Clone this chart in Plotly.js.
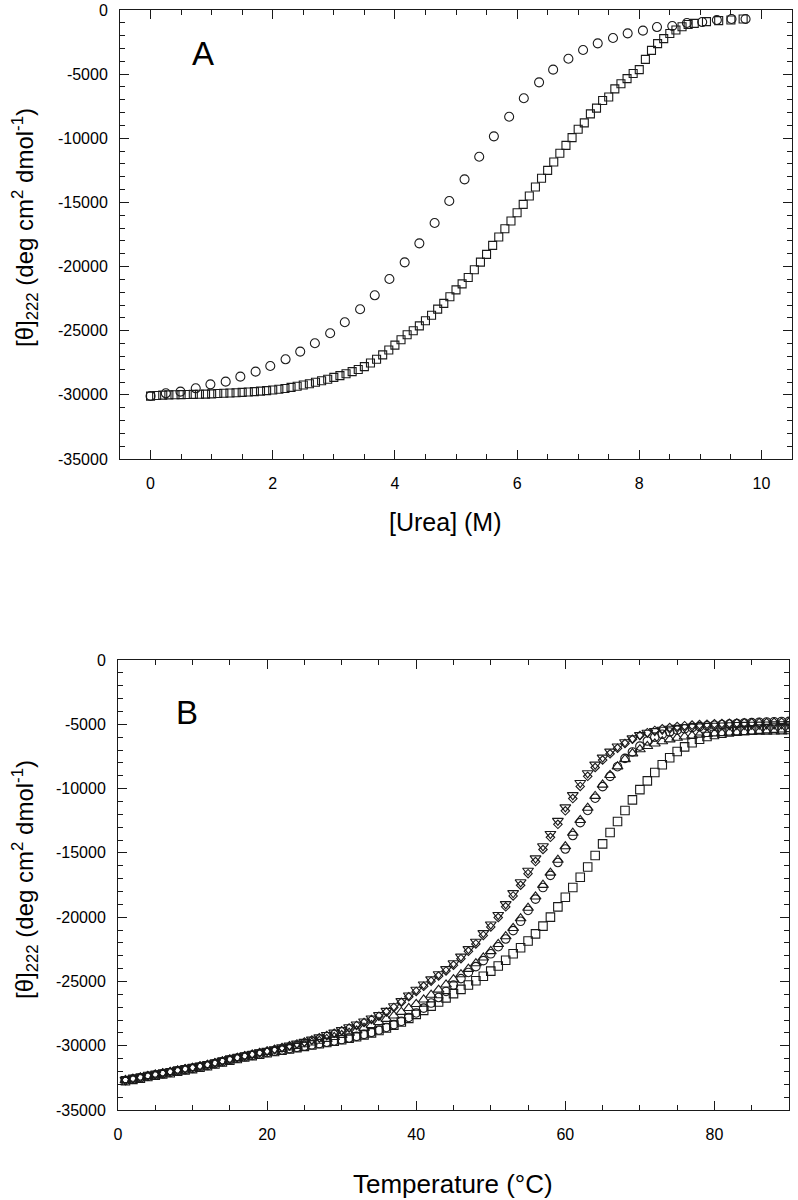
<!DOCTYPE html>
<html><head><meta charset="utf-8">
<script src="https://cdn.plot.ly/plotly-3.0.1.min.js"></script>
<style>html,body{margin:0;padding:0;background:#fff}#chart{width:798px;height:1200px}</style>
</head><body><div id="chart"></div>
<script>
// ---------- Panel A: urea denaturation ----------
const ureaCircles = [0,0.25,0.49,0.74,0.98,1.23,1.47,1.72,1.96,2.21,2.45,2.69,2.94,3.18,3.43,3.67,3.91,4.16,4.40,4.65,4.89,5.14,5.38,5.62,5.87,6.11,6.36,6.59,6.84,7.08,7.32,7.57,7.81,8.06,8.29,8.54,8.78,9.03,9.27,9.51,9.74];
const thetaCircles = [-30090,-29880,-29750,-29490,-29180,-28970,-28580,-28190,-27750,-27230,-26630,-25980,-25200,-24340,-23330,-22240,-20970,-19670,-18190,-16600,-14890,-13200,-11440,-9850,-8320,-6880,-5640,-4650,-3800,-3120,-2600,-2180,-1820,-1610,-1330,-1250,-1010,-940,-780,-700,-700];
const ureaSquares = [0,0.1,0.2,0.3,0.4,0.5,0.6,0.7,0.8,0.9,1.0,1.1,1.2,1.3,1.4,1.5,1.6,1.7,1.8,1.9,2.0,2.1,2.2,2.3,2.4,2.5,2.6,2.7,2.8,2.9,3.0,3.1,3.2,3.3,3.4,3.5,3.6,3.7,3.8,3.9,4.0,4.1,4.2,4.3,4.4,4.5,4.6,4.7,4.8,4.9,5.0,5.1,5.2,5.3,5.4,5.5,5.6,5.7,5.8,5.9,6.0,6.1,6.2,6.3,6.4,6.5,6.6,6.7,6.8,6.9,7.0,7.1,7.2,7.3,7.4,7.5,7.6,7.7,7.8,7.9,8.0,8.1,8.2,8.3,8.4,8.5,8.6,8.7,8.8,8.9,9.1,9.3,9.5,9.7];
const thetaSquares = [-30100,-30050,-30020,-30000,-29990,-29980,-29970,-29960,-29950,-29940,-29920,-29900,-29880,-29860,-29840,-29810,-29780,-29750,-29710,-29670,-29620,-29560,-29500,-29420,-29330,-29230,-29130,-29020,-28900,-28780,-28640,-28500,-28350,-28190,-28020,-27800,-27520,-27220,-26880,-26500,-26120,-25700,-25320,-25000,-24620,-24220,-23800,-23320,-22870,-22350,-21820,-21350,-20850,-20250,-19650,-19050,-18350,-17700,-17050,-16450,-15800,-15150,-14500,-13800,-13120,-12500,-11850,-11170,-10550,-9950,-9300,-8800,-8100,-7650,-7050,-6780,-6150,-5750,-5350,-4950,-4650,-3850,-3150,-2620,-2230,-1830,-1560,-1300,-1130,-1040,-910,-830,-780,-700];

// ---------- Panel B: thermal denaturation ----------
const tempC = [1,2,3,4,5,6,7,8,9,10,11,12,13,14,15,16,17,18,19,20,21,22,23,24,25,26,27,28,29,30,31,32,33,34,35,36,37,38,39,40,41,42,43,44,45,46,47,48,49,50,51,52,53,54,55,56,57,58,59,60,61,62,63,64,65,66,67,68,69,70,71,72,73,74,75,76,77,78,79,80,81,82,83,84,85,86,87,88,89,90];
const thetaB_squares = [-32720,-32620,-32520,-32400,-32300,-32200,-32100,-31980,-31880,-31780,-31670,-31560,-31420,-31270,-31120,-31000,-30880,-30770,-30660,-30550,-30450,-30350,-30250,-30150,-30050,-29950,-29850,-29750,-29650,-29540,-29420,-29300,-29160,-29000,-28820,-28620,-28400,-28150,-27870,-27560,-27250,-26920,-26600,-26280,-25950,-25620,-25280,-24950,-24600,-24200,-23800,-23350,-22850,-22380,-21850,-21300,-20700,-20000,-19200,-18450,-17700,-16900,-16100,-15200,-14300,-13420,-12560,-11700,-10880,-10080,-9400,-8750,-8150,-7600,-7120,-6760,-6440,-6160,-5950,-5800,-5690,-5600,-5530,-5470,-5420,-5380,-5340,-5300,-5270,-5240];
const thetaB_circles = [-32700,-32600,-32500,-32380,-32280,-32180,-32080,-31960,-31860,-31760,-31650,-31540,-31400,-31250,-31100,-30980,-30860,-30750,-30640,-30530,-30430,-30330,-30230,-30130,-30030,-29930,-29830,-29730,-29630,-29520,-29400,-29270,-29120,-28960,-28780,-28580,-28360,-28100,-27800,-27450,-27080,-26680,-26250,-25780,-25280,-24780,-24300,-23850,-23380,-22850,-22300,-21700,-21050,-20320,-19480,-18600,-17700,-16750,-15750,-14700,-13650,-12650,-11700,-10750,-9850,-9050,-8300,-7650,-7150,-6700,-6300,-6000,-5780,-5600,-5460,-5350,-5260,-5180,-5120,-5070,-5020,-4980,-4940,-4900,-4870,-4840,-4820,-4800,-4780,-4770];
const thetaB_upTri = [-32680,-32580,-32480,-32360,-32260,-32160,-32060,-31940,-31840,-31740,-31630,-31520,-31380,-31230,-31080,-30960,-30840,-30720,-30600,-30490,-30380,-30260,-30140,-30020,-29890,-29760,-29620,-29480,-29330,-29170,-29000,-28820,-28620,-28400,-28170,-27920,-27660,-27380,-27080,-26760,-26420,-26050,-25650,-25250,-24850,-24450,-24030,-23600,-23150,-22650,-22100,-21500,-20850,-20100,-19280,-18400,-17500,-16550,-15550,-14500,-13450,-12450,-11500,-10580,-9700,-8950,-8280,-7720,-7270,-6950,-6700,-6500,-6330,-6180,-6060,-5960,-5880,-5810,-5760,-5720,-5690,-5660,-5640,-5620,-5600,-5590,-5580,-5570,-5560,-5550];
const thetaB_downTri = [-32650,-32550,-32440,-32330,-32220,-32110,-32000,-31890,-31780,-31670,-31560,-31440,-31310,-31170,-31030,-30900,-30770,-30640,-30510,-30390,-30260,-30120,-29980,-29830,-29690,-29520,-29340,-29160,-28970,-28780,-28560,-28340,-28110,-27870,-27610,-27280,-26920,-26520,-26080,-25640,-25230,-24830,-24430,-24030,-23580,-23060,-22480,-21900,-21230,-20560,-19820,-18980,-18120,-17280,-16380,-15420,-14480,-13520,-12500,-11450,-10500,-9560,-8800,-8130,-7580,-7120,-6720,-6390,-6090,-5830,-5650,-5520,-5420,-5340,-5270,-5220,-5180,-5150,-5120,-5100,-5080,-5060,-5050,-5040,-5030,-5020,-5010,-5000,-4990,-4980];
const thetaB_diamonds = [-32680,-32570,-32460,-32350,-32240,-32130,-32020,-31910,-31800,-31690,-31580,-31460,-31330,-31190,-31050,-30920,-30790,-30660,-30530,-30410,-30280,-30140,-30000,-29860,-29720,-29560,-29390,-29210,-29030,-28840,-28630,-28420,-28200,-27960,-27700,-27380,-27020,-26620,-26200,-25780,-25380,-24980,-24580,-24180,-23740,-23230,-22660,-22080,-21420,-20760,-20030,-19200,-18350,-17520,-16620,-15680,-14740,-13790,-12780,-11730,-10780,-9830,-9050,-8360,-7780,-7300,-6870,-6500,-6170,-5880,-5650,-5480,-5350,-5250,-5170,-5110,-5060,-5020,-4990,-4960,-4940,-4920,-4900,-4890,-4880,-4870,-4860,-4850,-4840,-4830];

// ---------- Tick labels ----------
const yTickVals = [0,-5000,-10000,-15000,-20000,-25000,-30000,-35000];
const yTickText = ["0","-5000","-10000","-15000","-20000","-25000","-30000","-35000"];
const xTickValsA = [0,2,4,6,8,10];
const xTickTextA = ["0","2","4","6","8","10"];
const xTickValsB = [0,20,40,60,80];
const xTickTextB = ["0","20","40","60","80"];

const INK = '#1a1a1a';
const FONT = 'Liberation Sans, Arial, Helvetica, sans-serif';

function mk(x, y, sym, size, xa, ya) {
  return {x: x, y: y, type: 'scatter', mode: 'markers', xaxis: xa, yaxis: ya,
    marker: {symbol: sym, size: size, color: INK, line: {color: INK, width: 1.1}},
    showlegend: false, hoverinfo: 'skip'};
}

const data = [
  mk(ureaSquares, thetaSquares, 'square-open', 8, 'x', 'y'),
  mk(ureaCircles, thetaCircles, 'circle-open', 9, 'x', 'y'),
  mk(tempC, thetaB_squares, 'square-open', 8.5, 'x2', 'y2'),
  mk(tempC, thetaB_diamonds, 'diamond-open', 6.5, 'x2', 'y2'),
  mk(tempC, thetaB_circles, 'circle-open', 8.5, 'x2', 'y2'),
  mk(tempC, thetaB_upTri, 'triangle-up-open', 9.5, 'x2', 'y2'),
  mk(tempC, thetaB_downTri, 'triangle-down-open', 9.5, 'x2', 'y2')
];

function axisBase(extra) {
  return Object.assign({
    showgrid: false, zeroline: false, showline: true, linecolor: INK, linewidth: 1,
    mirror: 'allticks', ticks: 'inside', ticklen: 9, tickwidth: 1, tickcolor: INK,
    tickmode: 'array', tickfont: {family: FONT, size: 16, color: '#000'},
    fixedrange: true
  }, extra);
}

const W = 798, H = 1200;
const px = v => v / W, py = v => 1 - v / H;

const layout = {
  width: W, height: H,
  margin: {l: 0, r: 0, t: 0, b: 0},
  paper_bgcolor: '#fff', plot_bgcolor: '#fff',
  font: {family: FONT, color: '#000'},
  xaxis: axisBase({domain: [px(120), px(792)], range: [-0.5, 10.5], anchor: 'y',
    tickvals: xTickValsA, ticktext: xTickTextA, ticklabelstandoff: 10,
    minor: {tickmode: 'linear', tick0: 0, dtick: 0.5, ticks: 'inside', ticklen: 5, tickcolor: INK, tickwidth: 1}}),
  yaxis: axisBase({domain: [py(459), py(10)], range: [-35000, 0], anchor: 'x',
    tickvals: yTickVals, ticktext: yTickText, ticklabelstandoff: 8,
    minor: {tickmode: 'linear', tick0: 0, dtick: 1000, ticks: 'inside', ticklen: 5, tickcolor: INK, tickwidth: 1}}),
  xaxis2: axisBase({domain: [px(118), px(789)], range: [0, 90], anchor: 'y2',
    tickvals: xTickValsB, ticktext: xTickTextB, ticklabelstandoff: 10,
    minor: {tickmode: 'linear', tick0: 0, dtick: 5, ticks: 'inside', ticklen: 5, tickcolor: INK, tickwidth: 1}}),
  yaxis2: axisBase({domain: [py(1110), py(660)], range: [-35000, 0], anchor: 'x2',
    tickvals: yTickVals, ticktext: yTickText, ticklabelstandoff: 8,
    minor: {tickmode: 'linear', tick0: 0, dtick: 1000, ticks: 'inside', ticklen: 5, tickcolor: INK, tickwidth: 1}}),
  annotations: [
    {text: 'A', x: px(203), y: py(53), xref: 'paper', yref: 'paper', showarrow: false,
     xanchor: 'center', yanchor: 'middle', font: {family: FONT, size: 33, color: '#000'}},
    {text: 'B', x: px(187), y: py(712), xref: 'paper', yref: 'paper', showarrow: false,
     xanchor: 'center', yanchor: 'middle', font: {family: FONT, size: 33, color: '#000'}},
    {text: '[θ]<sub>222</sub> (deg cm<sup>2</sup> dmol<sup>-1</sup>)', x: px(25), y: py(228),
     xref: 'paper', yref: 'paper', showarrow: false, textangle: -90,
     xanchor: 'center', yanchor: 'middle', font: {family: FONT, size: 24, color: '#000'}},
    {text: '[θ]<sub>222</sub> (deg cm<sup>2</sup> dmol<sup>-1</sup>)', x: px(25), y: py(880),
     xref: 'paper', yref: 'paper', showarrow: false, textangle: -90,
     xanchor: 'center', yanchor: 'middle', font: {family: FONT, size: 24, color: '#000'}},
    {text: '[Urea] (M)', x: px(445), y: py(522), xref: 'paper', yref: 'paper', showarrow: false,
     xanchor: 'center', yanchor: 'middle', font: {family: FONT, size: 25, color: '#000'}},
    {text: 'Temperature (°C)', x: px(453), y: py(1184), xref: 'paper', yref: 'paper', showarrow: false,
     xanchor: 'center', yanchor: 'middle', font: {family: FONT, size: 26, color: '#000'}}
  ]
};

Plotly.newPlot('chart', data, layout, {staticPlot: true, displayModeBar: false});
</script>
</body></html>
